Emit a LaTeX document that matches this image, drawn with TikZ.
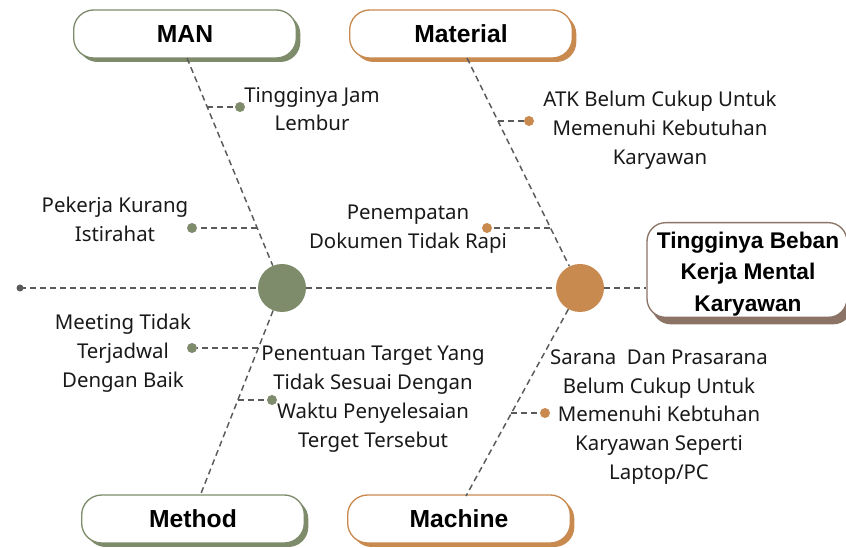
\documentclass[tikz,border=0pt]{standalone}
\usepackage{fontspec}
\setmainfont{Noto Sans}
\newfontfamily\boldfam{Liberation Sans}
\definecolor{olive}{HTML}{7F8C6B}
\definecolor{copper}{HTML}{C98A4F}
\definecolor{mocha}{HTML}{8B7366}
\definecolor{dashgray}{HTML}{5A5A5A}
\tikzset{
  bone/.style={draw=dashgray, line width=1.1pt, dash pattern=on 4.5pt off 3pt},
  catbox/.style={draw=#1, line width=1pt, fill=white, rounded corners=15pt, minimum width=167pt, minimum height=36pt, font=\boldfam\bfseries\fontsize{18.5}{22}\selectfont, text=black},
  shadowbox/.style={fill=#1, rounded corners=15pt, minimum width=167pt, minimum height=36pt},
  lbl/.style={align=center, font=\fontsize{15.3}{21.6}\selectfont, text=black!90, inner sep=0pt},
  dotn/.style={circle, fill=#1, minimum size=7.5pt, inner sep=0pt},
}
\begin{document}
\begin{tikzpicture}[x=0.75pt,y=-0.75pt]
\useasboundingbox (0,0) rectangle (846,548);
% category boxes with shadows
\node[shadowbox=olive] at (189,38) {};
\node[catbox=olive] (man) at (185,34) {MAN};
\node[shadowbox=copper] at (465,38) {};
\node[catbox=copper] (mat) at (461,34) {Material};
\node[shadowbox=olive] at (197,523) {};
\node[catbox=olive] (met) at (193,519) {Method};
\node[shadowbox=copper] at (463,523) {};
\node[catbox=copper] (mac) at (459,519) {Machine};
% result box
\node[fill=mocha, rounded corners=14pt, minimum width=150pt, minimum height=71pt] at (752,277) {};
\node[draw=mocha, line width=1pt, fill=white, rounded corners=14pt, minimum width=150pt, minimum height=71pt, inner sep=0pt] (res) at (747,270) {};
\node[align=center, inner sep=0pt, font=\boldfam\bfseries\fontsize{17}{23.5}\selectfont] (rest) at (748,274) {Tingginya Beban\\Kerja Mental\\Karyawan};
% hubs
\coordinate (tail) at (20,288);
\node[circle, fill=olive, minimum size=36pt, inner sep=0pt] (g) at (282,288) {};
\node[circle, fill=copper, minimum size=36pt, inner sep=0pt] (o) at (580,288) {};
% spine
\draw[bone] (tail) -- (g);
\draw[bone] (g) -- (o);
\draw[bone] (o) -- (o -| res.west);
\fill[dashgray] (tail) circle (3.5);
% main bones
\coordinate (manb) at (187,58);
\coordinate (metb) at (200,496);
\coordinate (matb) at (467,58);
\coordinate (macb) at (466,496);
\draw[bone] (manb) -- (g);
\draw[bone] (g) -- (metb);
\draw[bone] (matb) -- (o);
\draw[bone] (o) -- (macb);
% sub-cause dots and branches
\node[dotn=olive] (d1) at (240,107) {};
\coordinate (b1) at (207,107);
\draw[bone] (b1) -- (d1);
\node[dotn=olive] (d2) at (192,228) {};
\coordinate (b2) at (257,228);
\draw[bone] (b2) -- (d2);
\node[dotn=olive] (d3) at (192,348) {};
\coordinate (b3) at (258,348);
\draw[bone] (b3) -- (d3);
\node[dotn=olive] (d4) at (272,400) {};
\coordinate (b4) at (238,400);
\draw[bone] (b4) -- (d4);
\node[dotn=copper] (d5) at (529,121) {};
\coordinate (b5) at (498,121);
\draw[bone] (b5) -- (d5);
\node[dotn=copper] (d6) at (487,228) {};
\coordinate (b6) at (550,228);
\draw[bone] (b6) -- (d6);
\node[dotn=copper] (d7) at (545,413) {};
\coordinate (b7) at (511,413);
\draw[bone] (b7) -- (d7);
% labels
\node[lbl] (t1) at (312,109) {Tingginya Jam\\Lembur};
\node[lbl] (t2) at (115,219) {Pekerja Kurang\\Istirahat};
\node[lbl] (t3) at (123,353) {Meeting Tidak\\Terjadwal\\Dengan Baik};
\node[lbl] (t4) at (373,399) {Penentuan Target Yang\\Tidak Sesuai Dengan\\Waktu Penyelesaian\\Terget Tersebut};
\node[lbl] (t5) at (660,130) {ATK Belum Cukup Untuk\\Memenuhi Kebutuhan\\Karyawan};
\node[lbl] (t6) at (408,229) {Penempatan\\Dokumen Tidak Rapi};
\node[lbl] (t7) at (659,417) {Sarana\ \ Dan Prasarana\\Belum Cukup Untuk\\Memenuhi Kebtuhan\\Karyawan Seperti\\Laptop/PC};
\end{tikzpicture}
\end{document}
